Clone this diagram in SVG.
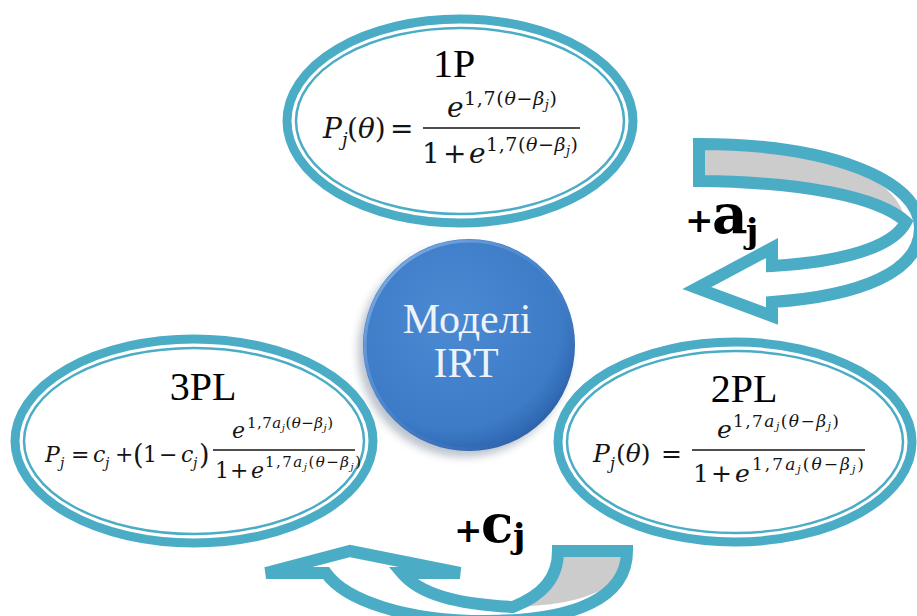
<svg xmlns="http://www.w3.org/2000/svg" width="917" height="616" viewBox="0 0 917 616">
<style>
.ring{fill:#fff;stroke:#4BACC6;stroke-width:9}
.thin{fill:none;stroke:#4BACC6;stroke-width:2.5}
.lbl{font-family:"Liberation Serif",serif;font-size:40px;fill:#000;text-anchor:middle}
.mi{font-family:"DejaVu Serif",serif;font-style:italic;fill:#141414}
.mr{font-family:"DejaVu Serif",serif;fill:#141414}
.bar{stroke:#141414;stroke-width:1.5}
.arw{fill:none;stroke:#4BACC6;stroke-width:12;stroke-linejoin:miter}
.arwbg{fill:#fff;stroke:none}
.gray{fill:#cccccc;stroke:none}
.plus{font-family:"DejaVu Serif",serif;font-weight:700;fill:#000}
.ctr{font-family:"Liberation Serif",serif;font-size:42px;fill:#eef3fa;text-anchor:middle}
</style>
<defs>
<radialGradient id="ballg" cx="0.42" cy="0.38" r="0.65">
<stop offset="0" stop-color="#4b8ad3"/>
<stop offset="0.8" stop-color="#3d7bc7"/>
<stop offset="1" stop-color="#2c63ae"/>
</radialGradient>
<linearGradient id="rim" x1="0" y1="0" x2="1" y2="1">
<stop offset="0" stop-color="#a9c8ee"/>
<stop offset="0.5" stop-color="#5b92d6" stop-opacity="0.4"/>
<stop offset="1" stop-color="#1f4f92"/>
</linearGradient>
<filter id="sh" x="-20%" y="-20%" width="140%" height="140%">
<feGaussianBlur stdDeviation="4"/>
</filter>
</defs>

<g id="connectors">
<g id="arrow-aj">
<path class="arwbg" d="M699,144 C830,144 920,180 920,228 C920,272 860,296 772,302 L772,316 L697,288 L772,248 L772,266 C840,262 893,248 906,222 C878,196 800,182 699,181 Z"/>
<path class="gray" d="M699,144 C820,144 898,175 906,222 C878,196 800,182 699,181 Z"/>
<path class="arw" d="M699,144 C830,144 920,180 920,228 C920,272 860,296 772,302 L772,316 L697,288 L772,248 L772,266 C840,262 893,248 906,222 C878,196 800,182 699,181 Z"/>
</g>
<g id="arrow-cj">
<path class="arwbg" d="M558,551 L627,551 C627,598 575,621 485,621 C405,621 345,600 326,573 L266,573 L350,551 L460,573 L402,573 C420,594 455,604 513,607 C543,595 558,578 558,551 Z"/>
<path class="gray" d="M558,551 L627,551 C627,590 580,605 513,607 C543,595 558,578 558,551 Z"/>
<path class="arw" d="M558,551 L627,551 C627,598 575,621 485,621 C405,621 345,600 326,573 L266,573 L350,551 L460,573 L402,573 C420,594 455,604 513,607 C543,595 558,578 558,551 Z"/>
</g>
<g id="label-aj">
<text class="plus" x="685" y="232" font-size="34">+</text>
<text class="plus" x="712" y="233" font-size="55">a</text>
<text class="plus" x="746" y="243" font-size="34">j</text>
</g>
<g id="label-cj">
<text class="plus" x="454" y="542" font-size="34">+</text>
<text class="plus" x="481" y="542" font-size="53">c</text>
<text class="plus" x="513" y="548" font-size="34">j</text>
</g>
</g>

<g id="node-1P">
<ellipse class="ring" cx="460" cy="121" rx="173" ry="102"/>
<ellipse class="thin" cx="460" cy="121" rx="164" ry="93"/>
<text class="lbl" x="454" y="77">1P</text>
<text class="mi" x="323" y="138" font-size="28">P</text>
<text class="mi" x="342" y="146" font-size="18">j</text>
<text class="mr" x="347" y="138" font-size="28">(<tspan class="mi">θ</tspan>)</text>
<text class="mr" x="390" y="138" font-size="28">=</text>
<line class="bar" x1="423" y1="128" x2="580" y2="128"/>
<text class="mi" x="447" y="117" font-size="28">e</text>
<text class="mr" x="464" y="105" font-size="19" textLength="93" lengthAdjust="spacing">1,7(<tspan class="mi">θ</tspan>−<tspan class="mi">β</tspan><tspan class="mi" font-size="13" dy="4">j</tspan><tspan dy="-4">)</tspan></text>
<text class="mr" x="422" y="163" font-size="28">1</text>
<text class="mr" x="443" y="163" font-size="28">+</text>
<text class="mi" x="469" y="163" font-size="28">e</text>
<text class="mr" x="486" y="151" font-size="19" textLength="92" lengthAdjust="spacing">1,7(<tspan class="mi">θ</tspan>−<tspan class="mi">β</tspan><tspan class="mi" font-size="13" dy="4">j</tspan><tspan dy="-4">)</tspan></text>
</g>

<g id="node-3PL">
<ellipse class="ring" cx="194" cy="441" rx="179" ry="102"/>
<ellipse class="thin" cx="194" cy="441" rx="170" ry="93"/>
<text class="lbl" x="203" y="400">3PL</text>
<text class="mi" x="45" y="462" font-size="22">P</text>
<text class="mi" x="60" y="468" font-size="14">j</text>
<text class="mr" x="71" y="462" font-size="22">=</text>
<text class="mi" x="93" y="462" font-size="22">c</text>
<text class="mi" x="105" y="468" font-size="14">j</text>
<text class="mr" x="115" y="462" font-size="22">+</text>
<text class="mr" x="133" y="464" font-size="27">(</text>
<text class="mr" x="143" y="462" font-size="22">1</text>
<text class="mr" x="159" y="462" font-size="22">−</text>
<text class="mi" x="181" y="462" font-size="22">c</text>
<text class="mi" x="193" y="468" font-size="14">j</text>
<text class="mr" x="199" y="464" font-size="27">)</text>
<line class="bar" x1="213" y1="450" x2="355" y2="450"/>
<text class="mi" x="232" y="438" font-size="22">e</text>
<text class="mr" x="247" y="428" font-size="15" textLength="86" lengthAdjust="spacing">1,7<tspan class="mi">a</tspan><tspan class="mi" font-size="10" dy="3">j</tspan><tspan dy="-3">(</tspan><tspan class="mi">θ</tspan>−<tspan class="mi">β</tspan><tspan class="mi" font-size="10" dy="3">j</tspan><tspan dy="-3">)</tspan></text>
<text class="mr" x="215" y="478" font-size="22">1</text>
<text class="mr" x="230" y="478" font-size="22">+</text>
<text class="mi" x="251" y="478" font-size="22">e</text>
<text class="mr" x="265" y="467" font-size="15" textLength="96" lengthAdjust="spacing">1,7<tspan class="mi">a</tspan><tspan class="mi" font-size="10" dy="3">j</tspan><tspan dy="-3">(</tspan><tspan class="mi">θ</tspan>−<tspan class="mi">β</tspan><tspan class="mi" font-size="10" dy="3">j</tspan><tspan dy="-3">)</tspan></text>
</g>

<g id="node-2PL">
<ellipse class="ring" cx="735" cy="442" rx="177" ry="100"/>
<ellipse class="thin" cx="735" cy="442" rx="168" ry="91"/>
<text class="lbl" x="744" y="402">2PL</text>
<text class="mi" x="593" y="462" font-size="25">P</text>
<text class="mi" x="610" y="469" font-size="16">j</text>
<text class="mr" x="616" y="462" font-size="25">(<tspan class="mi">θ</tspan>)</text>
<text class="mr" x="661" y="462" font-size="25">=</text>
<line class="bar" x1="692" y1="450" x2="865" y2="450"/>
<text class="mi" x="717" y="438" font-size="25">e</text>
<text class="mr" x="733" y="427" font-size="17" textLength="106" lengthAdjust="spacing">1,7<tspan class="mi">a</tspan><tspan class="mi" font-size="11" dy="3">j</tspan><tspan dy="-3">(</tspan><tspan class="mi">θ</tspan>−<tspan class="mi">β</tspan><tspan class="mi" font-size="11" dy="3">j</tspan><tspan dy="-3">)</tspan></text>
<text class="mr" x="693" y="482" font-size="25">1</text>
<text class="mr" x="711" y="482" font-size="25">+</text>
<text class="mi" x="735" y="482" font-size="25">e</text>
<text class="mr" x="752" y="470" font-size="17" textLength="112" lengthAdjust="spacing">1,7<tspan class="mi">a</tspan><tspan class="mi" font-size="11" dy="3">j</tspan><tspan dy="-3">(</tspan><tspan class="mi">θ</tspan>−<tspan class="mi">β</tspan><tspan class="mi" font-size="11" dy="3">j</tspan><tspan dy="-3">)</tspan></text>
</g>

<g id="node-center">
<circle cx="464" cy="351" r="106" fill="#6a7a90" opacity="0.45" filter="url(#sh)"/>
<circle cx="469" cy="345" r="106" fill="url(#ballg)"/>
<circle cx="469" cy="345" r="104" fill="none" stroke="url(#rim)" stroke-width="3" opacity="0.8"/>
<text class="ctr" x="467" y="333">Моделі</text>
<text class="ctr" x="466" y="377">IRT</text>
</g>
</svg>
